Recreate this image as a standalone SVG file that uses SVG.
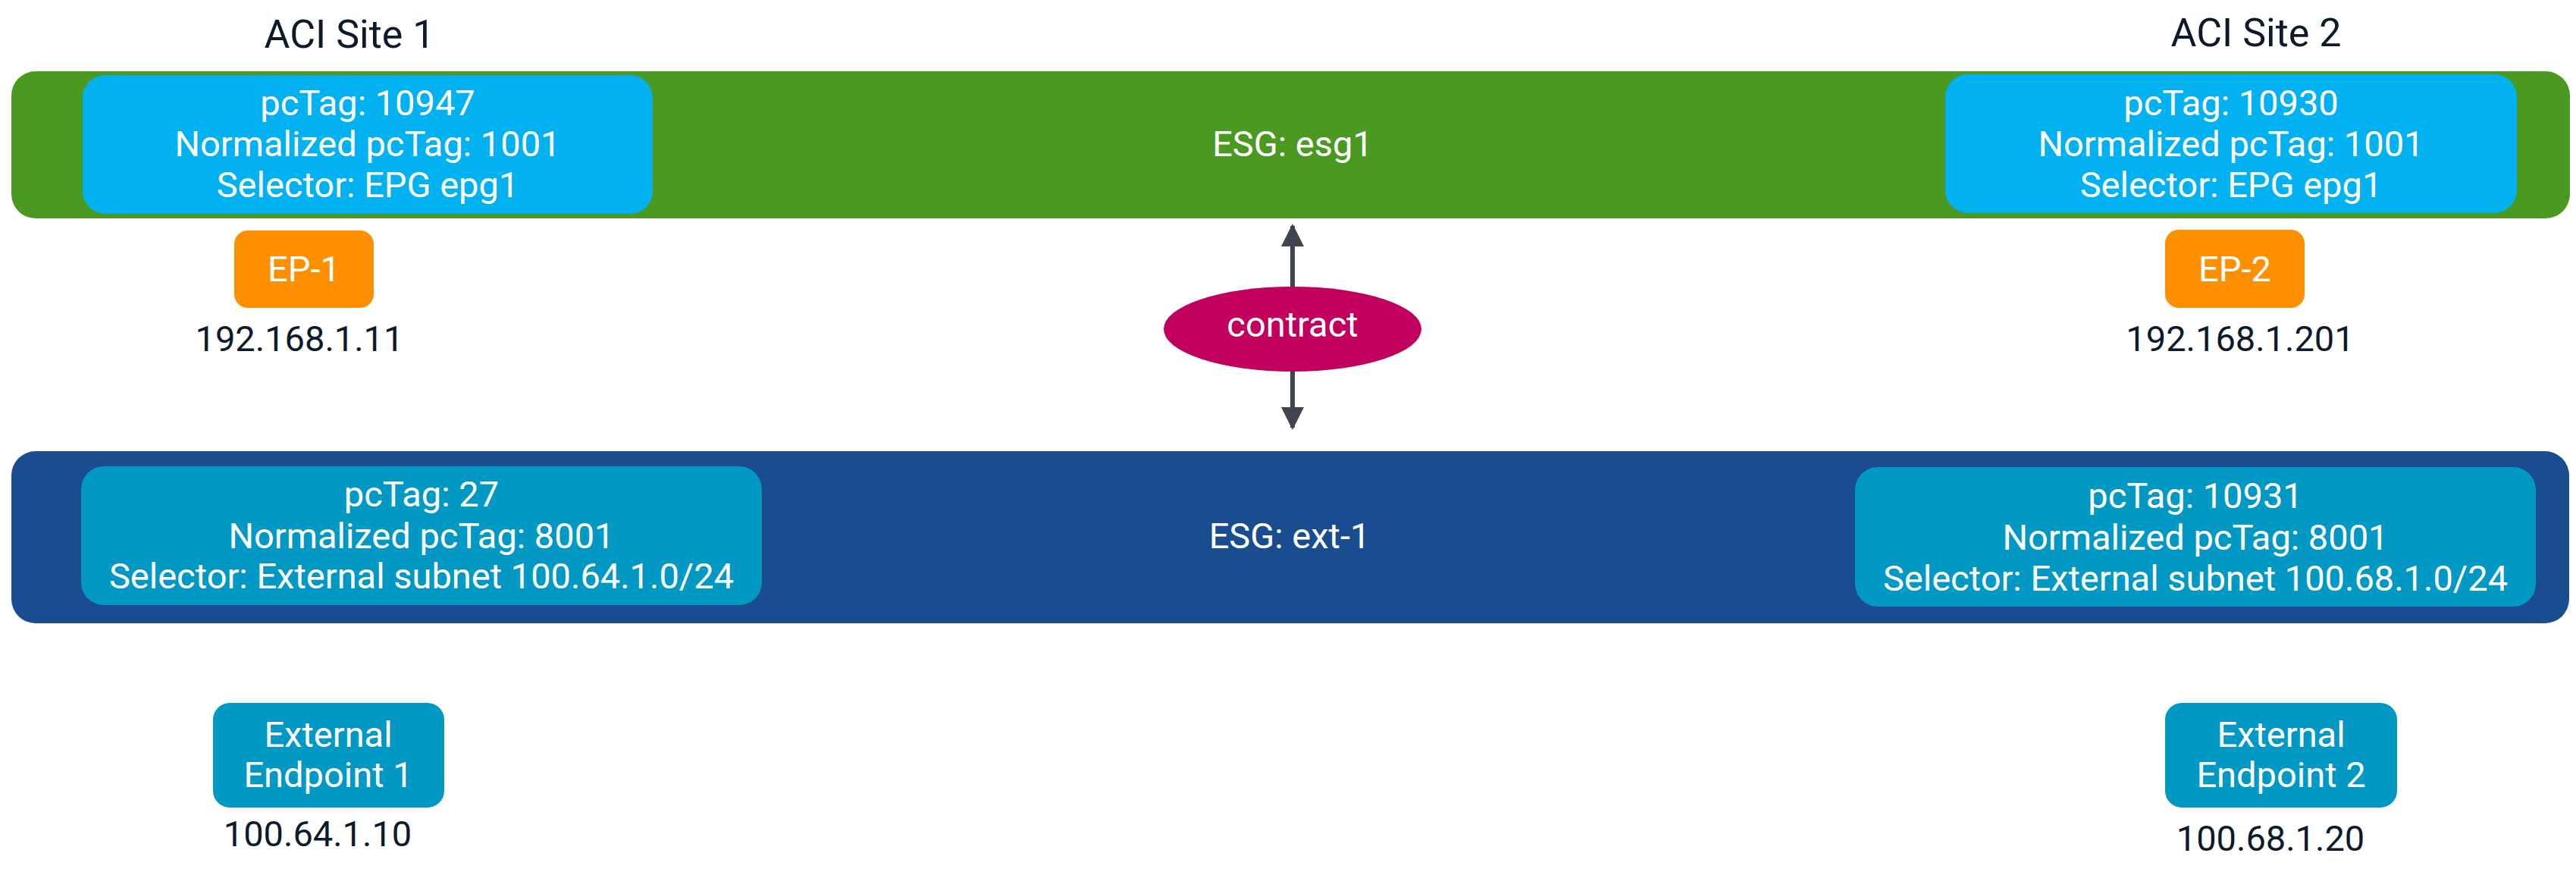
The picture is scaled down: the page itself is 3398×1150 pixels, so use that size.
<svg xmlns="http://www.w3.org/2000/svg" width="3398" height="1150" viewBox="0 0 3398 1150">
<style>
text{font-family:Roboto,"Liberation Sans",sans-serif;font-size:47px;text-anchor:middle}
.w{fill:#ffffff}
.d{fill:#0d1a2b}
.h{font-size:52px}
</style>
<defs>
<marker id="ah" markerWidth="5" markerHeight="5" refX="4.5" refY="2.5" orient="auto" markerUnits="strokeWidth"><path d="M0,0 L5,2.5 L0,5 z" fill="#3e4550"/></marker>
</defs>
<rect width="3398" height="1150" fill="#ffffff"/>
<text class="d h" x="461" y="63">ACI Site 1</text>
<text class="d h" x="2976" y="61">ACI Site 2</text>
<g id="esg1">
<rect x="15" y="94" width="3375" height="194" rx="32" fill="#4a9a22"/>
<text class="w" x="1705" y="206">ESG: esg1</text>
</g>
<g id="site1-esg1">
<rect x="109" y="99" width="752" height="183" rx="30" fill="#02b1ef"/>
<text class="w" x="485" y="152">pcTag: 10947</text>
<text class="w" x="485" y="206">Normalized pcTag: 1001</text>
<text class="w" x="485" y="260">Selector: EPG epg1</text>
</g>
<g id="site2-esg1">
<rect x="2566" y="98" width="754" height="183" rx="30" fill="#02b1ef"/>
<text class="w" x="2943" y="152">pcTag: 10930</text>
<text class="w" x="2943" y="206">Normalized pcTag: 1001</text>
<text class="w" x="2943" y="260">Selector: EPG epg1</text>
</g>
<g id="ep1">
<rect x="309" y="304" width="184" height="102" rx="18" fill="#fe9000"/>
<text class="w" x="401" y="371">EP-1</text>
<text class="d" x="395" y="463">192.168.1.11</text>
</g>
<g id="ep2">
<rect x="2856" y="303" width="184" height="103" rx="18" fill="#fe9000"/>
<text class="w" x="2948" y="371">EP-2</text>
<text class="d" x="2955" y="463">192.168.1.201</text>
</g>
<g id="connectors">
<line x1="1705" y1="378" x2="1705" y2="298" stroke="#3e4550" stroke-width="6" marker-end="url(#ah)"/>
<line x1="1705" y1="489" x2="1705" y2="564" stroke="#3e4550" stroke-width="6" marker-end="url(#ah)"/>
</g>
<g id="contract">
<ellipse cx="1705" cy="434" rx="170" ry="56" fill="#c0005c"/>
<text class="w" x="1705" y="444">contract</text>
</g>
<g id="ext1">
<rect x="15" y="595" width="3374" height="227" rx="32" fill="#1a4d8f"/>
<text class="w" x="1701" y="723">ESG: ext-1</text>
</g>
<g id="site1-ext1">
<rect x="107" y="615" width="898" height="183" rx="30" fill="#0199c3"/>
<text class="w" x="556" y="668">pcTag: 27</text>
<text class="w" x="556" y="723">Normalized pcTag: 8001</text>
<text class="w" x="556" y="776">Selector: External subnet 100.64.1.0/24</text>
</g>
<g id="site2-ext1">
<rect x="2447" y="616" width="898" height="184" rx="30" fill="#0199c3"/>
<text class="w" x="2896" y="670">pcTag: 10931</text>
<text class="w" x="2896" y="725">Normalized pcTag: 8001</text>
<text class="w" x="2896" y="779">Selector: External subnet 100.68.1.0/24</text>
</g>
<g id="extep1">
<rect x="281" y="927" width="305" height="138" rx="22" fill="#0199c3"/>
<text class="w" x="433" y="985">External</text>
<text class="w" x="433" y="1038">Endpoint 1</text>
<text class="d" x="419" y="1116">100.64.1.10</text>
</g>
<g id="extep2">
<rect x="2856" y="927" width="306" height="138" rx="22" fill="#0199c3"/>
<text class="w" x="3009" y="985">External</text>
<text class="w" x="3009" y="1038">Endpoint 2</text>
<text class="d" x="2995" y="1122">100.68.1.20</text>
</g>
</svg>
